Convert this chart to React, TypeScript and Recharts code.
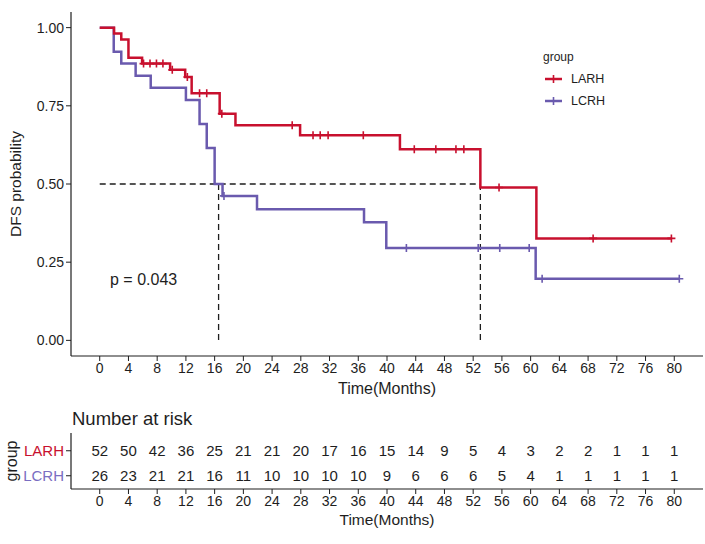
import {
  ComposedChart,
  Line,
  Scatter,
  XAxis,
  YAxis,
  ReferenceLine,
  Legend,
} from 'recharts';

// Kaplan-Meier step points (time in months, DFS probability)
const LARH_TIMES = [0, 2.0, 3.0, 4.0, 5.9, 9.8, 11.9, 12.8, 16.7, 18.9, 27.9, 41.8, 53.0, 60.8, 79.7];
const LARH_SURV = [1, 0.981, 0.962, 0.904, 0.885, 0.865, 0.842, 0.79, 0.725, 0.688, 0.656, 0.611, 0.489, 0.326, 0.326];
const LARH_CENSOR = [6.1, 7.0, 7.9, 8.8, 10.1, 12.2, 13.9, 14.9, 17.0, 26.8, 29.7, 30.7, 31.8, 36.7, 43.8, 46.8, 49.6, 50.7, 55.6, 68.7, 79.6];

const LCRH_TIMES = [0, 1.95, 3.0, 5.0, 7.1, 12.0, 13.9, 14.9, 16.0, 17.1, 21.9, 36.8, 39.9, 60.7, 80.8];
const LCRH_SURV = [1, 0.923, 0.885, 0.846, 0.808, 0.769, 0.692, 0.615, 0.5, 0.462, 0.419, 0.378, 0.295, 0.197, 0.197];
const LCRH_CENSOR = [17.3, 42.7, 52.7, 55.7, 59.8, 61.6, 80.7];

const MEDIAN_LARH = 53.0;
const MEDIAN_LCRH = 16.55;
const P_VALUE = 'p = 0.043';

const TIME_TICKS = [0, 4, 8, 12, 16, 20, 24, 28, 32, 36, 40, 44, 48, 52, 56, 60, 64, 68, 72, 76, 80];
const PROB_TICKS = [0, 0.25, 0.5, 0.75, 1];

const RISK_LARH = [52, 50, 42, 36, 25, 21, 21, 20, 17, 16, 15, 14, 9, 5, 4, 3, 2, 2, 1, 1, 1];
const RISK_LCRH = [26, 23, 21, 21, 16, 11, 10, 10, 10, 10, 9, 6, 6, 6, 5, 4, 1, 1, 1, 1, 1];

const RED = '#C8102E';
const PURPLE = '#6A5AAE';
const PURPLE_TEXT = '#7A6EC2';
const INK = '#1e1e1e';
const FONT = '"Liberation Sans", Arial, sans-serif';

const steps = (times: number[], surv: number[]) =>
  times.map((t, i) => ({ time: t, surv: surv[i] }));

// survival value at time t
const survAt = (times: number[], surv: number[], t: number) => {
  let s = surv[0];
  times.forEach((tt, i) => {
    if (tt <= t) s = surv[i];
  });
  return s;
};

const censors = (cens: number[], times: number[], surv: number[]) =>
  cens.map((t) => ({ time: t, surv: survAt(times, surv, t) }));

const larhLine = steps(LARH_TIMES, LARH_SURV);
const lcrhLine = steps(LCRH_TIMES, LCRH_SURV);
const larhCens = censors(LARH_CENSOR, LARH_TIMES, LARH_SURV);
const lcrhCens = censors(LCRH_CENSOR, LCRH_TIMES, LCRH_SURV);

const riskRows = [
  { name: 'LARH', row: 2, color: RED, counts: RISK_LARH },
  { name: 'LCRH', row: 1, color: PURPLE_TEXT, counts: RISK_LCRH },
];

const plus = (color: string) => (props: any) => {
  const { cx, cy } = props;
  if (cx == null || cy == null) return <g />;
  return (
    <path
      d={`M${cx - 4},${cy}h8M${cx},${cy - 4}v8`}
      stroke={color}
      strokeWidth={1.6}
      fill="none"
    />
  );
};

const riskText = (props: any) => {
  const { cx, cy, payload } = props;
  return (
    <text x={cx} y={cy} textAnchor="middle" dominantBaseline="central" fontSize={15} fill={INK}>
      {payload.n}
    </text>
  );
};

const RowTick = (props: any) => {
  const { x, y, payload } = props;
  const r = riskRows.find((d) => d.row === payload.value);
  return (
    <text x={x} y={y} textAnchor="end" dominantBaseline="central" fontSize={15} fill={r?.color}>
      {r?.name}
    </text>
  );
};

const renderLegend = () => (
  <svg width={100} height={70} style={{ fontFamily: FONT }}>
    <text x={5} y={11} fontSize={12} fill={INK} dominantBaseline="central">
      group
    </text>
    {[
      { name: 'LARH', color: RED, y: 33 },
      { name: 'LCRH', color: PURPLE, y: 55 },
    ].map((d) => (
      <g key={d.name}>
        <line x1={7} x2={24} y1={d.y} y2={d.y} stroke={d.color} strokeWidth={2.5} />
        <path d={`M15.5,${d.y - 4}v8`} stroke={d.color} strokeWidth={1.6} />
        <text x={33} y={d.y} fontSize={12.5} fill={INK} dominantBaseline="central">
          {d.name}
        </text>
      </g>
    ))}
  </svg>
);

const axisTitle = (text: string, dy: number, size = 16) => (props: any) => {
  const vb = props.viewBox;
  return (
    <text
      x={vb.x + vb.width / 2}
      y={vb.y + dy}
      textAnchor="middle"
      dominantBaseline="central"
      fontSize={size}
      fill={INK}
    >
      {text}
    </text>
  );
};

const sideTitle = (text: string, x: number, size: number) => (props: any) => {
  const vb = props.viewBox;
  const cy = vb.y + vb.height / 2;
  return (
    <text
      x={x}
      y={cy}
      transform={`rotate(-90 ${x} ${cy})`}
      textAnchor="middle"
      dominantBaseline="central"
      fontSize={size}
      fill={INK}
    >
      {text}
    </text>
  );
};

const tickStyle = { fill: INK, fontSize: 14 };

export default function App() {
  return (
    <div
      style={{
        position: 'absolute',
        left: 0,
        top: 0,
        width: 705,
        height: 544,
        background: '#fff',
        fontFamily: FONT,
      }}
    >
      {/* Survival curves */}
      <div style={{ position: 'absolute', left: 0, top: 0 }}>
        <ComposedChart width={705} height={400} margin={{ top: 12, right: 2, bottom: 0, left: 0 }}>
          <XAxis
            type="number"
            dataKey="time"
            domain={[-4, 84]}
            ticks={TIME_TICKS}
            allowDataOverflow
            tick={tickStyle}
            tickSize={5}
            height={44}
            axisLine={{ stroke: INK, strokeWidth: 1.2 }}
            tickLine={{ stroke: INK }}
            label={{ content: axisTitle('Time(Months)', 32) }}
          />
          <YAxis
            type="number"
            dataKey="surv"
            domain={[-0.05, 1.05]}
            ticks={PROB_TICKS}
            allowDataOverflow
            tickFormatter={(v: number) => v.toFixed(2)}
            tick={tickStyle}
            tickSize={5}
            width={71}
            axisLine={{ stroke: INK, strokeWidth: 1.2 }}
            tickLine={{ stroke: INK }}
            label={{ content: sideTitle('DFS probability', 15, 15.5) }}
          />
          <ReferenceLine
            segment={[{ x: 0, y: 0.5 }, { x: MEDIAN_LARH, y: 0.5 }]}
            stroke={INK}
            strokeWidth={1.3}
            strokeDasharray="6 4"
          />
          <ReferenceLine
            segment={[{ x: MEDIAN_LCRH, y: 0.5 }, { x: MEDIAN_LCRH, y: 0 }]}
            stroke={INK}
            strokeWidth={1.3}
            strokeDasharray="6 4"
          />
          <ReferenceLine
            segment={[{ x: MEDIAN_LARH, y: 0.5 }, { x: MEDIAN_LARH, y: 0 }]}
            stroke={INK}
            strokeWidth={1.3}
            strokeDasharray="6 4"
          />
          <Line
            data={lcrhLine}
            dataKey="surv"
            type="stepAfter"
            stroke={PURPLE}
            strokeWidth={2.5}
            dot={false}
            activeDot={false}
            isAnimationActive={false}
          />
          <Line
            data={larhLine}
            dataKey="surv"
            type="stepAfter"
            stroke={RED}
            strokeWidth={2.5}
            dot={false}
            activeDot={false}
            isAnimationActive={false}
          />
          <Scatter data={lcrhCens} dataKey="surv" shape={plus(PURPLE)} isAnimationActive={false} />
          <Scatter data={larhCens} dataKey="surv" shape={plus(RED)} isAnimationActive={false} />
          <Legend
            content={renderLegend}
            layout="vertical"
            align="center"
            verticalAlign="middle"
            wrapperStyle={{ left: 538, top: 46, width: 100, height: 70 }}
          />
        </ComposedChart>
      </div>

      {/* Number at risk table */}
      <div style={{ position: 'absolute', left: 0, top: 400 }}>
        <ComposedChart width={705} height={144} margin={{ top: 33, right: 2, bottom: 0, left: 0 }}>
          <XAxis
            type="number"
            dataKey="time"
            domain={[-4, 84]}
            ticks={TIME_TICKS}
            allowDataOverflow
            tick={tickStyle}
            tickSize={5}
            height={55}
            axisLine={{ stroke: INK, strokeWidth: 1.2 }}
            tickLine={{ stroke: INK }}
            label={{ content: axisTitle('Time(Months)', 30, 15.5) }}
          />
          <YAxis
            type="number"
            dataKey="row"
            domain={[0.47, 2.71]}
            ticks={[1, 2]}
            allowDataOverflow
            tick={<RowTick />}
            tickSize={5}
            width={71}
            axisLine={{ stroke: INK, strokeWidth: 1.2 }}
            tickLine={{ stroke: INK }}
            label={{ content: sideTitle('group', 11, 16) }}
          />
          {riskRows.map((r) => (
            <Scatter
              key={r.name}
              data={r.counts.map((n, i) => ({ time: TIME_TICKS[i], row: r.row, n }))}
              dataKey="row"
              shape={riskText}
              isAnimationActive={false}
            />
          ))}
        </ComposedChart>
      </div>

      {/* Free text */}
      <svg
        width={705}
        height={544}
        style={{ position: 'absolute', left: 0, top: 0, pointerEvents: 'none', fontFamily: FONT }}
      >
        <text x={110} y={279} fontSize={16} fill={INK} dominantBaseline="central">
          {P_VALUE}
        </text>
        <text x={72} y={418} fontSize={18.5} fill={INK} dominantBaseline="central">
          Number at risk
        </text>
      </svg>
    </div>
  );
}
